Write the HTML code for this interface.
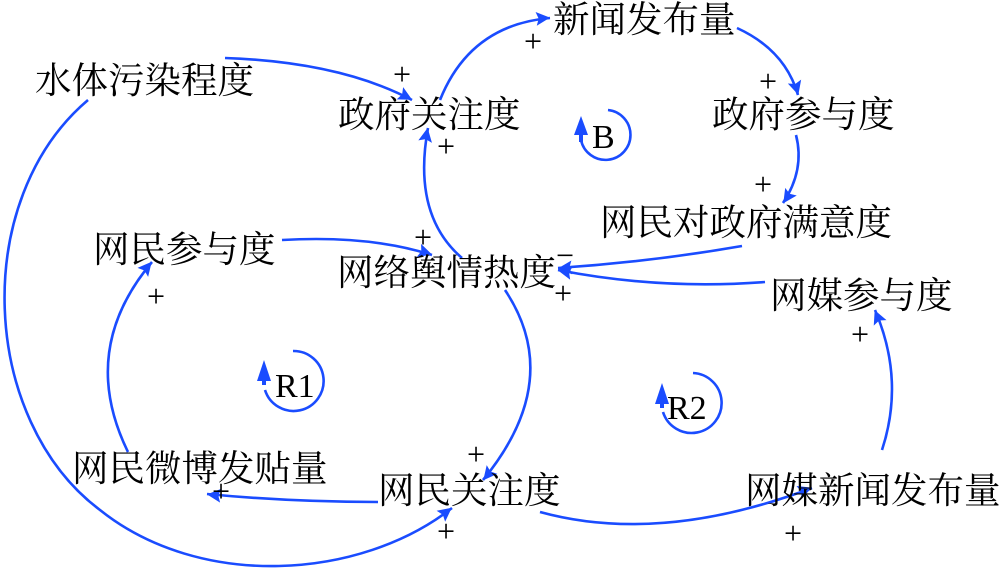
<!DOCTYPE html>
<html><head><meta charset="utf-8"><style>
html,body{margin:0;padding:0;background:#fff;width:1000px;height:578px;overflow:hidden}
svg{display:block}
text{font-family:"Liberation Serif","Noto Serif CJK SC",serif;fill:#000}
.l{font-size:36.5px}
.s text{font-size:32px}
.lp{font-size:34px}
.p{stroke:#1a4cff;stroke-width:2.6;fill:none}
</style></head><body>
<svg width="1000" height="578" viewBox="0 0 1000 578" xmlns="http://www.w3.org/2000/svg">
<defs>
<marker id="a" viewBox="0 0 10 10" refX="9" refY="5" markerWidth="7" markerHeight="7" markerUnits="userSpaceOnUse" orient="auto" style="overflow:visible">
<path d="M-12,-6 L10,5 L-12,16 L-8,5 Z" fill="#1a4cff" transform="scale(0.9)"/>
</marker>
</defs>
<g class="p" marker-end="url(#a)">
<path d="M225,58 Q340,62 412,100"/>
<path d="M440,100 Q470,25 550,18"/>
<path d="M737,28 Q785,50 798,95"/>
<path d="M796,135 Q805,170 783,203"/>
<path d="M742,246 Q650,262 558,268"/>
<path d="M765,282 Q660,290 558,270"/>
<path d="M462,258 Q412,215 428,128"/>
<path d="M282,240 Q370,235 432,255"/>
<path d="M505,290 Q565,380 483,480"/>
<path d="M378,502 Q290,502 207,494"/>
<path d="M128,452 Q78,350 152,262"/>
<path d="M88,100 C-30,200 -20,420 100,510 C200,590 360,580 452,508"/>
<path d="M540,512 Q660,545 812,488"/>
<path d="M882,450 Q905,380 875,310"/>
</g>
<g class="p">
<path d="M608,110 A25,25 0 1 1 581,140"/>
<path d="M293,351 A30,30 0 1 1 265,390"/>
<path d="M693,373 A30,30 0 1 1 663,412"/>
</g>
<g fill="#1a4cff">
<path d="M581,116 L574,135 L588,135 Z"/><rect x="579" y="130" width="4" height="12"/>
<path d="M264,360 L257,381 L271,381 Z"/><rect x="262" y="375" width="4" height="10"/>
<path d="M662,383 L655,404 L669,404 Z"/><rect x="660" y="398" width="4" height="10"/>
</g>
<text class="l" x="35" y="93">水体污染程度</text>
<text class="l" x="553" y="32">新闻发布量</text>
<text class="l" x="338" y="127">政府关注度</text>
<text class="l" x="712" y="127">政府参与度</text>
<text class="l" x="600" y="235">网民对政府满意度</text>
<text class="l" x="93" y="262">网民参与度</text>
<text class="l" x="337" y="285">网络舆情热度</text>
<text class="l" x="770" y="308">网媒参与度</text>
<text class="l" x="72" y="481">网民微博发贴量</text>
<text class="l" x="378" y="503">网民关注度</text>
<text class="l" x="745" y="503">网媒新闻发布量</text>
<text class="lp" x="592" y="148">B</text>
<text class="lp" x="275" y="397">R1</text>
<text class="lp" x="667" y="419">R2</text>
<g class="s">
<text x="393" y="85">+</text>
<text x="524" y="52">+</text>
<text x="759" y="92">+</text>
<text x="754" y="195">+</text>
<text x="437" y="157">+</text>
<text x="414" y="248">+</text>
<text x="556" y="266">−</text>
<text x="554" y="304">+</text>
<text x="147" y="307">+</text>
<text x="851" y="345">+</text>
<text x="467" y="465">+</text>
<text x="212" y="502">+</text>
<text x="437" y="542">+</text>
<text x="784" y="544">+</text>
</g>
</svg>
</body></html>
